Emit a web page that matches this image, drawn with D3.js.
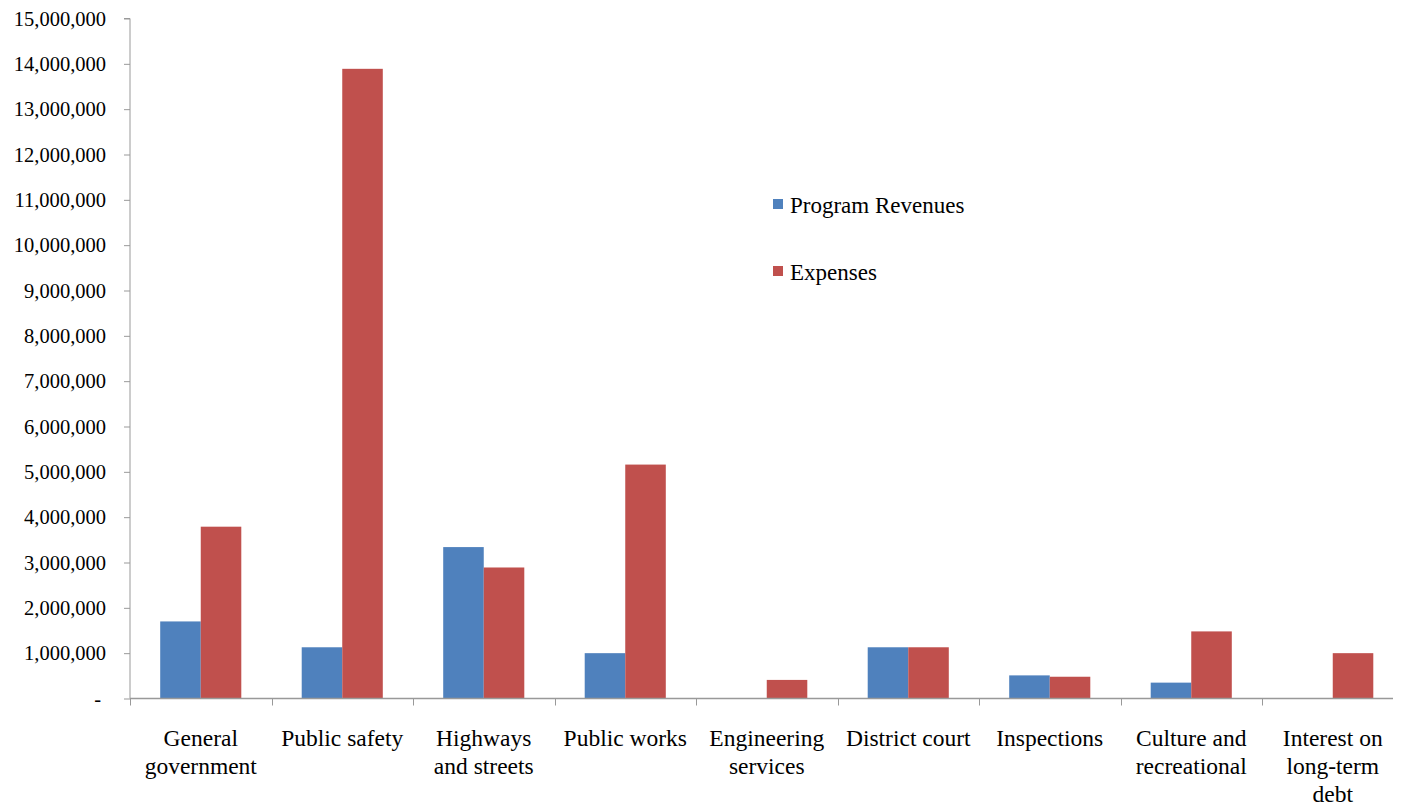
<!DOCTYPE html>
<html>
<head>
<meta charset="utf-8">
<script src="https://cdn.jsdelivr.net/npm/d3@7"></script>
<style>
  html, body { margin: 0; padding: 0; background: #fff; }
  svg { display: block; }
</style>
</head>
<body>
<svg id="chart" width="1404" height="807"></svg>
<script>
// Program revenues vs. expenses by function
const categories = [
  ["General", "government"],
  ["Public safety"],
  ["Highways", "and streets"],
  ["Public works"],
  ["Engineering", "services"],
  ["District court"],
  ["Inspections"],
  ["Culture and", "recreational"],
  ["Interest on", "long-term", "debt"]
];
const seriesNames = ["Program Revenues", "Expenses"];
const programRevenues = [1700000, 1130000, 3340000, 1000000, 0, 1130000, 510000, 350000, 0];
const expenses = [3790000, 13890000, 2890000, 5160000, 410000, 1130000, 480000, 1480000, 1000000];
const yTicks = [0, 1000000, 2000000, 3000000, 4000000, 5000000, 6000000, 7000000,
                8000000, 9000000, 10000000, 11000000, 12000000, 13000000, 14000000, 15000000];
const colors = ["#4F81BD", "#C0504D"];

const FONT = "'Liberation Serif', 'Times New Roman', Times, serif";
const svg = d3.select("#chart");
const x0 = 130, plotRight = 1403.5, y0 = 698.5, yTop = 18.5, axisEnd = 1393;
const axisColor = "#999999";

const keys = categories.map((c, i) => i);
const x = d3.scaleBand().domain(keys).range([x0, plotRight]).paddingInner(0).paddingOuter(0);
const inner = d3.scaleBand().domain([0, 1]).range([0, x.bandwidth()]).paddingOuter(0.745).paddingInner(0);
const y = d3.scaleLinear().domain([0, 15000000]).range([y0, yTop]);

const fmt = d3.format(",");

// Bars
const series = [programRevenues, expenses];
series.forEach((vals, s) => {
  svg.append("g").selectAll("rect").data(vals).join("rect")
    .attr("x", (d, i) => x(i) + inner(s))
    .attr("y", d => y(d))
    .attr("width", inner.bandwidth())
    .attr("height", d => y0 - y(d))
    .attr("fill", colors[s]);
});

// Y axis
const yAxis = d3.axisLeft(y).tickValues(yTicks).tickSize(6).tickPadding(18)
  .tickFormat(d => d === 0 ? "-" : fmt(d));
const gy = svg.append("g").attr("transform", `translate(${x0},0)`).call(yAxis);
gy.attr("font-family", null).attr("font-size", null);
gy.select(".domain").attr("stroke", axisColor).attr("d", `M-6,${yTop}H0V${y0}`);
gy.selectAll(".tick line").attr("stroke", axisColor);
gy.selectAll(".tick text")
  .style("font-family", FONT)
  .style("font-size", "20.5px").attr("fill", "#000");
gy.selectAll(".tick").filter(d => d === 0).select("text").attr("dx", "-5");

// X axis line and category dividers
svg.append("line").attr("x1", x0).attr("x2", axisEnd).attr("y1", y0).attr("y2", y0)
  .attr("stroke", axisColor).attr("stroke-width", 1.5);
svg.append("g").selectAll("line").data(keys).join("line")
  .attr("x1", d => Math.round(x(d)) + 0.5).attr("x2", d => Math.round(x(d)) + 0.5)
  .attr("y1", y0).attr("y2", y0 + 7)
  .attr("stroke", axisColor);

// Category labels
const labels = svg.append("g").selectAll("text").data(categories).join("text")
  .attr("text-anchor", "middle")
  .style("font-family", FONT)
  .style("font-size", "23.5px")
  .attr("fill", "#000");
labels.each(function(lines, i) {
  const t = d3.select(this);
  lines.forEach((ln, j) => {
    t.append("tspan").attr("x", x(i) + x.bandwidth() / 2).attr("y", 745.5 + j * 28).text(ln);
  });
});

// Legend
const legend = svg.append("g");
seriesNames.forEach((name, i) => {
  const ly = 204 + i * 67;
  legend.append("rect").attr("x", 773).attr("y", ly - 5).attr("width", 10).attr("height", 10)
    .attr("fill", colors[i]);
  legend.append("text").attr("x", 790).attr("y", ly + 9)
    .style("font-family", FONT).style("font-size", "23px").attr("fill", "#000").text(name);
});
</script>
</body>
</html>
